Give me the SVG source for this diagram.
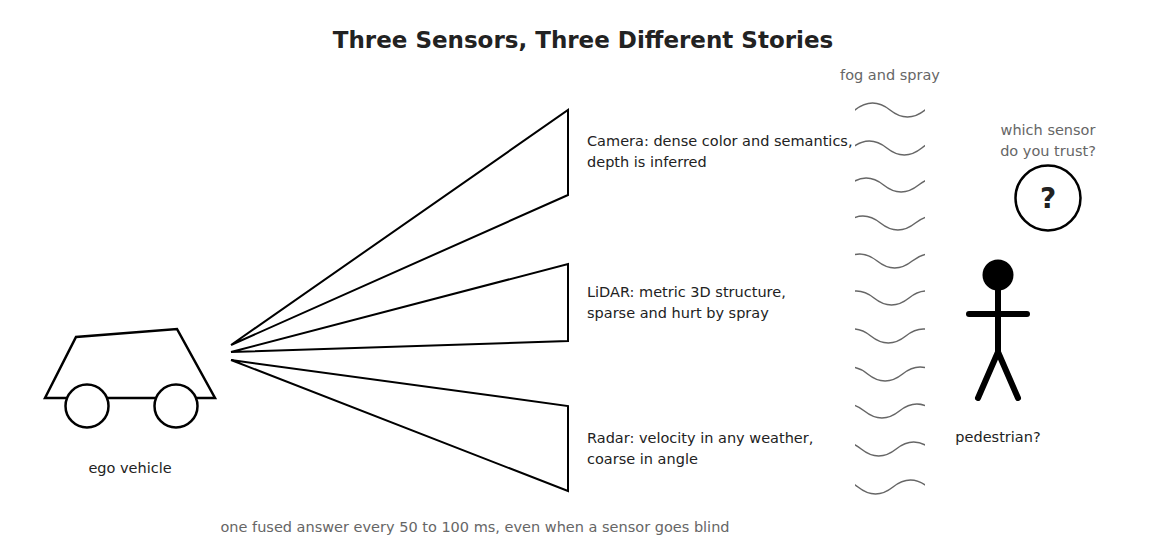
<svg xmlns="http://www.w3.org/2000/svg" xmlns:xlink="http://www.w3.org/1999/xlink" width="1167" height="559" viewBox="0 0 1167 559">
<style>
text{font-family:"DejaVu Sans",sans-serif}
.t{font-size:14.5px;fill:#222}
.g{font-size:14.5px;fill:#666}
.ln{fill:none;stroke:#000;stroke-width:2}
.w{fill:none;stroke:#666;stroke-width:1.5}
</style>
<defs>
<path id="sine" d="M-70,0 C-58.3,-9.33 -46.7,-9.33 -35,0 C-23.3,9.33 -11.7,9.33 0,0 C11.7,-9.33 23.3,-9.33 35,0 C46.7,9.33 58.3,9.33 70,0 C81.7,-9.33 93.3,-9.33 105,0 C116.7,9.33 128.3,9.33 140,0"/>
<clipPath id="wc"><rect x="0" y="-20" width="70" height="40"/></clipPath>
</defs>
<rect width="1167" height="559" fill="#fff"/>
<text x="583" y="48" text-anchor="middle" style="font-size:23px;font-weight:bold;fill:#222">Three Sensors, Three Different Stories</text>
<g id="car">
<polygon class="ln" points="45,398 76,337 177,329 215,398" stroke-width="2.5" style="stroke-width:2.5"/>
<circle cx="87" cy="406" r="21.5" fill="#fff" stroke="#000" stroke-width="2.5"/>
<circle cx="176" cy="406" r="21.5" fill="#fff" stroke="#000" stroke-width="2.5"/>
<text class="t" x="130" y="473" text-anchor="middle">ego vehicle</text>
</g>
<g id="connectors">
<polyline class="ln" points="231,345 568,110 568,195 231,345"/>
<polyline class="ln" points="231,352 568,264 568,341 231,352"/>
<polyline class="ln" points="231,360 568,406 568,491 231,360"/>
</g>
<g id="camera"><text class="t" x="587" y="146">Camera: dense color and semantics,</text><text class="t" x="587" y="167">depth is inferred</text></g>
<g id="lidar"><text class="t" x="587" y="297">LiDAR: metric 3D structure,</text><text class="t" x="587" y="318">sparse and hurt by spray</text></g>
<g id="radar"><text class="t" x="587" y="443">Radar: velocity in any weather,</text><text class="t" x="587" y="464">coarse in angle</text></g>
<g id="fog">
<text class="g" x="890" y="80" text-anchor="middle">fog and spray</text>
<g transform="translate(855,110)" clip-path="url(#wc)"><use xlink:href="#sine" class="w" transform="translate(0,0)"/></g>
<g transform="translate(855,148)" clip-path="url(#wc)"><use xlink:href="#sine" class="w" transform="translate(-3.2,0)"/></g>
<g transform="translate(855,185)" clip-path="url(#wc)"><use xlink:href="#sine" class="w" transform="translate(-6.4,0)"/></g>
<g transform="translate(855,223)" clip-path="url(#wc)"><use xlink:href="#sine" class="w" transform="translate(-9.6,0)"/></g>
<g transform="translate(855,261)" clip-path="url(#wc)"><use xlink:href="#sine" class="w" transform="translate(-12.8,0)"/></g>
<g transform="translate(855,298)" clip-path="url(#wc)"><use xlink:href="#sine" class="w" transform="translate(-16,0)"/></g>
<g transform="translate(855,336)" clip-path="url(#wc)"><use xlink:href="#sine" class="w" transform="translate(-19.2,0)"/></g>
<g transform="translate(855,374)" clip-path="url(#wc)"><use xlink:href="#sine" class="w" transform="translate(-22.4,0)"/></g>
<g transform="translate(855,411)" clip-path="url(#wc)"><use xlink:href="#sine" class="w" transform="translate(-25.6,0)"/></g>
<g transform="translate(855,449)" clip-path="url(#wc)"><use xlink:href="#sine" class="w" transform="translate(-28.8,0)"/></g>
<g transform="translate(855,487)" clip-path="url(#wc)"><use xlink:href="#sine" class="w" transform="translate(-32,0)"/></g>
</g>
<g id="pedestrian">
<circle cx="998" cy="275" r="15.5" fill="#000"/>
<g stroke="#000" stroke-width="6" stroke-linecap="round" fill="none">
<line x1="998" y1="290" x2="998" y2="352"/>
<line x1="969" y1="314" x2="1027" y2="314"/>
<polyline points="978,398 998,352 1018,398" stroke-linejoin="round"/>
</g>
<text class="t" x="998" y="442" text-anchor="middle">pedestrian?</text>
</g>
<g id="question">
<text class="g" x="1048" y="135" text-anchor="middle">which sensor</text>
<text class="g" x="1048" y="156" text-anchor="middle">do you trust?</text>
<circle cx="1048" cy="198" r="32.5" fill="#fff" stroke="#000" stroke-width="2.5"/>
<text x="1048" y="208" text-anchor="middle" style="font-size:28px;font-weight:bold;fill:#222">?</text>
</g>
<text class="g" x="475" y="532" text-anchor="middle">one fused answer every 50 to 100 ms, even when a sensor goes blind</text>
</svg>
